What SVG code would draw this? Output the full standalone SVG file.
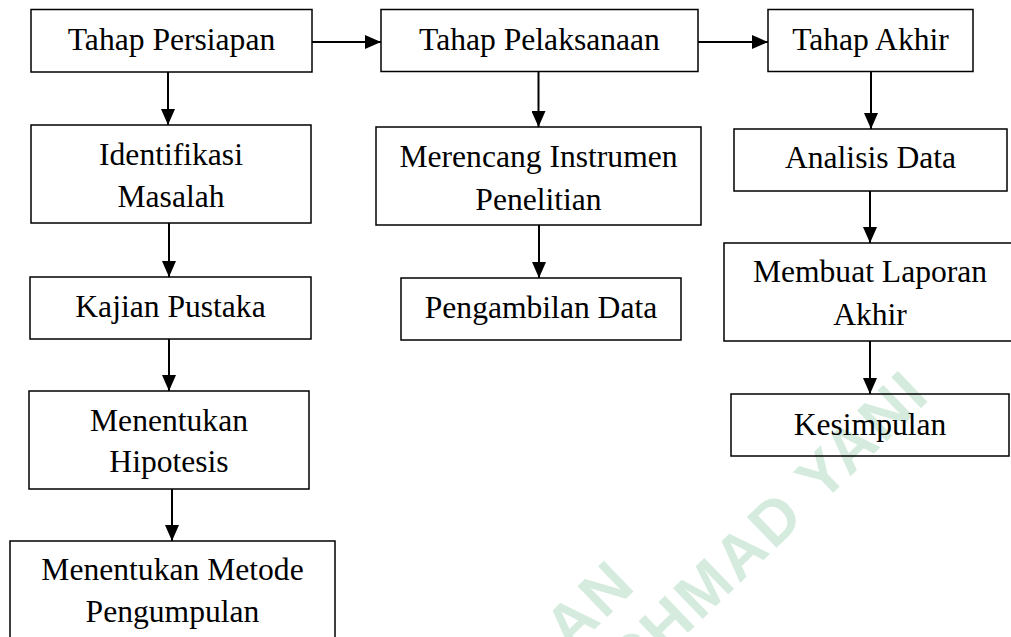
<svg xmlns="http://www.w3.org/2000/svg" width="1011" height="637" viewBox="0 0 1011 637">
  <style>
    .box { fill: none; stroke: #000; stroke-width: 1.5; }
    .lbl { font-size: 31.6px; fill: #000; text-anchor: middle; }
    .wm { font-family: "Liberation Sans", Arial, sans-serif; font-weight: bold; font-size: 62px; letter-spacing: 3px; fill: #d4ebde; }
    .conn line { stroke: #000; stroke-width: 2; marker-end: url(#arr); }
  </style>
  <defs>
    <marker id="arr" markerUnits="userSpaceOnUse" markerWidth="16" markerHeight="14" refX="16" refY="7" orient="auto">
      <path d="M0,0 L16,7 L0,14 z" fill="#000"/>
    </marker>
  </defs>
  <rect x="0" y="0" width="1011" height="637" fill="#fff"/>

  <g id="watermark">
    <text class="wm" transform="translate(570,653) rotate(-44)">AN</text>
    <text class="wm" transform="translate(631,688) rotate(-44)">CHMAD YANI</text>
  </g>

  <g id="connectors" class="conn">
    <line x1="312" y1="42" x2="381" y2="42"/>
    <line x1="698" y1="42" x2="768" y2="42"/>
    <line x1="168" y1="72" x2="168" y2="125"/>
    <line x1="169" y1="223" x2="169" y2="277"/>
    <line x1="169" y1="339" x2="169" y2="391"/>
    <line x1="172" y1="489" x2="172" y2="541"/>
    <line x1="538.5" y1="71" x2="538.5" y2="127"/>
    <line x1="539" y1="225" x2="539" y2="278"/>
    <line x1="871" y1="71" x2="871" y2="129"/>
    <line x1="870" y1="191" x2="870" y2="243"/>
    <line x1="870" y1="341" x2="870" y2="394"/>
  </g>

  <g id="nodes" font-family="'Liberation Serif', serif">
  <g id="n-persiapan">
    <rect class="box" x="31" y="9.5" width="281" height="62.5"/>
    <text class="lbl" x="171.5" y="50">Tahap Persiapan</text>
  </g>
  <g id="n-pelaksanaan">
    <rect class="box" x="381" y="9.5" width="317" height="62"/>
    <text class="lbl" x="539.5" y="50">Tahap Pelaksanaan</text>
  </g>
  <g id="n-akhir">
    <rect class="box" x="768" y="9.5" width="205" height="62"/>
    <text class="lbl" x="870.5" y="50">Tahap Akhir</text>
  </g>
  <g id="n-identifikasi">
    <rect class="box" x="31" y="125" width="280" height="98"/>
    <text class="lbl" x="171" y="165">Identifikasi</text>
    <text class="lbl" x="171" y="207">Masalah</text>
  </g>
  <g id="n-kajian">
    <rect class="box" x="30" y="277" width="281" height="62"/>
    <text class="lbl" x="170.5" y="317">Kajian Pustaka</text>
  </g>
  <g id="n-hipotesis">
    <rect class="box" x="29" y="391" width="280" height="98"/>
    <text class="lbl" x="169" y="431">Menentukan</text>
    <text class="lbl" x="169" y="472">Hipotesis</text>
  </g>
  <g id="n-metode">
    <rect class="box" x="10" y="541" width="325" height="110"/>
    <text class="lbl" x="172.5" y="580">Menentukan Metode</text>
    <text class="lbl" x="172.5" y="622">Pengumpulan</text>
  </g>
  <g id="n-instrumen">
    <rect class="box" x="376" y="127" width="325" height="98"/>
    <text class="lbl" x="538.5" y="167">Merencang Instrumen</text>
    <text class="lbl" x="538.5" y="210">Penelitian</text>
  </g>
  <g id="n-pengambilan">
    <rect class="box" x="401" y="278" width="280" height="62"/>
    <text class="lbl" x="541" y="318">Pengambilan Data</text>
  </g>
  <g id="n-analisis">
    <rect class="box" x="734" y="129" width="273" height="62"/>
    <text class="lbl" x="870.5" y="168">Analisis Data</text>
  </g>
  <g id="n-laporan">
    <rect class="box" x="724" y="243" width="293" height="98"/>
    <text class="lbl" x="870" y="282">Membuat Laporan</text>
    <text class="lbl" x="870" y="325">Akhir</text>
  </g>
  <g id="n-kesimpulan">
    <rect class="box" x="731" y="394" width="278" height="62"/>
    <text class="lbl" x="870" y="435">Kesimpulan</text>
  </g>
  </g>
</svg>
